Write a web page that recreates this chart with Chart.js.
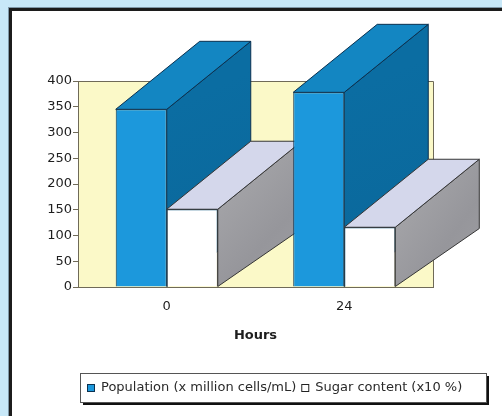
<!DOCTYPE html>
<html>
<head>
<meta charset="utf-8">
<style>
  html, body { margin: 0; padding: 0; background: #c8e8f8; }
  canvas { display: block; }
</style>
<script src="https://cdn.jsdelivr.net/npm/chart.js@4.4.1/dist/chart.umd.min.js"></script>
</head>
<body>
<canvas id="chart" width="502" height="416"></canvas>
<script>
// Sampling times (hours)
const hours = ['0', '24'];
// Yeast population, x million cells/mL
const population = [345, 378];
// Sugar content, x10 %
const sugar = [151, 116];
// Value axis ticks
const yTicks = [0, 50, 100, 150, 200, 250, 300, 350, 400];

const seriesNames = ['Population (x million cells/mL)', 'Sugar content (x10 %)'];

const FONT = 'DejaVu Sans';

// Colours of the three visible faces of each column (front, top, side) and outline
const faces = [
  { front: '#1c98dc', top: '#1386c2', side: '#0b6da2', line: '#0b3150' },
  { front: '#ffffff', top: '#d4d7eb', side: '#9a9a9f', line: '#363636' }
];

// Oblique depth of the columns
const DEPTH_X = 84;
const DEPTH_TOP_Y = -68;
const DEPTH_BASE_Y = -58;

// Page frame and pale yellow back wall
const framePlugin = {
  id: 'frame',
  beforeDraw(chart) {
    const ctx = chart.ctx;
    const { left, top, right, bottom } = chart.chartArea;
    ctx.save();
    ctx.fillStyle = '#c8e8f8';
    ctx.fillRect(0, 0, chart.width, chart.height);
    ctx.fillStyle = '#7f98a8';
    ctx.fillRect(8, 7, chart.width, chart.height);
    ctx.fillStyle = '#1c1c1c';
    ctx.fillRect(9, 8, chart.width, chart.height);
    ctx.fillStyle = '#ffffff';
    ctx.fillRect(12, 11, chart.width, chart.height);
    // back wall
    ctx.fillStyle = '#fbf9c8';
    ctx.fillRect(left, top, right - left, bottom - top);
    ctx.strokeStyle = '#6f6a58';
    ctx.lineWidth = 1;
    ctx.beginPath();
    ctx.moveTo(left, top + 0.5);
    ctx.lineTo(right + 0.5, top + 0.5);
    ctx.lineTo(right + 0.5, bottom);
    ctx.stroke();
    ctx.restore();
  }
};

function poly(ctx, pts, fill, line) {
  ctx.beginPath();
  ctx.moveTo(pts[0][0], pts[0][1]);
  for (let i = 1; i < pts.length; i++) ctx.lineTo(pts[i][0], pts[i][1]);
  ctx.closePath();
  ctx.fillStyle = fill;
  ctx.fill();
  ctx.strokeStyle = line;
  ctx.lineWidth = 1;
  ctx.stroke();
}

// Top and side faces of the columns, drawn behind the library's front faces
const depthPlugin = {
  id: 'depth',
  beforeDatasetsDraw(chart) {
    const ctx = chart.ctx;
    const metas = chart.data.datasets.map((_, i) => chart.getDatasetMeta(i));
    ctx.save();
    for (let i = 0; i < chart.data.labels.length; i++) {
      metas.forEach((meta, d) => {
        const el = meta.data[i];
        if (!el) return;
        const { x, y, base, width } = el.getProps(['x', 'y', 'base', 'width'], true);
        const l = x - width / 2, r = x + width / 2;
        const c = faces[d];
        // side face
        let g = ctx.createLinearGradient(r, y, r + DEPTH_X, base);
        if (d === 1) {
          g.addColorStop(0, '#a2a2a6');
          g.addColorStop(0.5, '#96969b');
          g.addColorStop(1, '#9e9ea2');
        } else {
          g.addColorStop(0, c.side);
          g.addColorStop(1, '#0a679a');
        }
        poly(ctx, [[r, y], [r + DEPTH_X, y + DEPTH_TOP_Y], [r + DEPTH_X, base + DEPTH_BASE_Y], [r, base]], g, c.line);
        // top face
        poly(ctx, [[l, y], [r, y], [r + DEPTH_X, y + DEPTH_TOP_Y], [l + DEPTH_X, y + DEPTH_TOP_Y]], c.top, c.line);
      });
    }
    ctx.restore();
  }
};

// Boxed legend with a drop shadow under the axis title
const legendPlugin = {
  id: 'boxLegend',
  afterDraw(chart) {
    const ctx = chart.ctx;
    const bx = 80, by = 373, bw = 406, bh = 29;
    ctx.save();
    ctx.fillStyle = '#111111';
    ctx.fillRect(bx + 3, by + 3, bw, bh);
    ctx.fillStyle = '#ffffff';
    ctx.fillRect(bx, by, bw, bh);
    ctx.strokeStyle = '#555555';
    ctx.lineWidth = 1;
    ctx.strokeRect(bx + 0.5, by + 0.5, bw, bh);
    ctx.font = '13px "' + FONT + '"';
    ctx.textBaseline = 'middle';
    const cy = by + bh / 2 + 0.5;
    let x = 87;
    chart.data.datasets.forEach((ds, d) => {
      ctx.fillStyle = faces[d].front;
      ctx.fillRect(x, cy - 4, 8, 8);
      ctx.strokeStyle = d === 0 ? '#0b3150' : '#222222';
      ctx.strokeRect(x + 0.5, cy - 3.5, 7, 7);
      x += 14;
      ctx.fillStyle = '#2a2a2a';
      ctx.fillText(ds.label, x, cy);
      x += ctx.measureText(ds.label).width + 5;
    });
    ctx.restore();
  }
};

new Chart(document.getElementById('chart'), {
  type: 'bar',
  data: {
    labels: hours,
    datasets: [
      {
        label: seriesNames[0],
        data: population,
        backgroundColor: faces[0].front,
        borderColor: faces[0].line,
        borderWidth: 1
      },
      {
        label: seriesNames[1],
        data: sugar,
        backgroundColor: faces[1].front,
        borderColor: faces[1].line,
        borderWidth: 1
      }
    ]
  },
  options: {
    responsive: false,
    animation: false,
    devicePixelRatio: 1,
    datasets: { bar: { categoryPercentage: 0.575, barPercentage: 1 } },
    layout: { padding: { left: 31, top: 81, right: 69, bottom: 69 } },
    plugins: {
      legend: { display: false },
      tooltip: { enabled: false }
    },
    scales: {
      x: {
        grid: { display: false },
        border: { display: true, color: '#6f6a58', width: 1 },
        ticks: { color: '#1e1e1e', font: { family: FONT, size: 13 }, padding: 4 },
        title: {
          display: true,
          text: 'Hours',
          color: '#1e1e1e',
          font: { family: FONT, size: 13, weight: 'bold' },
          padding: { top: 0, bottom: 4 }
        },
        afterFit(scale) { scale.height = 60; }
      },
      y: {
        min: 0,
        max: 400,
        afterBuildTicks(scale) { scale.ticks = yTicks.map(v => ({ value: v })); },
        grid: { drawOnChartArea: false, drawTicks: true, tickLength: 5, color: '#6f6a58' },
        border: { display: true, color: '#6f6a58', width: 1 },
        ticks: { color: '#1e1e1e', font: { family: FONT, size: 13 }, padding: 1 },
        afterFit(scale) { scale.width = 47; }
      }
    }
  },
  plugins: [framePlugin, depthPlugin, legendPlugin]
});
</script>
</body>
</html>
